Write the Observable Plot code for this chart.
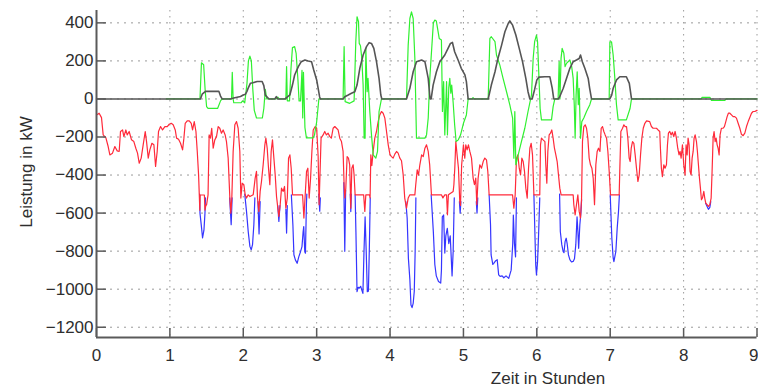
<!DOCTYPE html>
<html><head><meta charset="utf-8">
<script src="https://cdn.jsdelivr.net/npm/d3@7"></script>
<script src="https://cdn.jsdelivr.net/npm/@observablehq/plot@0.6"></script>
<style>body{margin:0;background:#fff;}</style>
</head><body><div id="chart"></div>
<script>
const xTicks = [0,1,2,3,4,5,6,7,8,9];
const yTicks = [400,200,0,-200,-400,-600,-800,-1000,-1200];
const xLabel = "Zeit in Stunden";
const yLabel = "Leistung in kW";

// Netzleistung nach Speicher (rot)
const redPoints = [[0,-84],[0.036,-75],[0.068,-98],[0.091,-189],[0.127,-203],[0.159,-250],[0.182,-294],[0.218,-285],[0.25,-250],[0.282,-273],[0.309,-276],[0.327,-171],[0.355,-163],[0.373,-198],[0.4,-163],[0.418,-189],[0.445,-171],[0.477,-215],[0.509,-224],[0.536,-259],[0.559,-285],[0.582,-338],[0.609,-311],[0.636,-241],[0.664,-171],[0.682,-224],[0.705,-311],[0.727,-268],[0.755,-233],[0.782,-241],[0.805,-355],[0.827,-276],[0.845,-171],[0.873,-145],[0.9,-163],[0.932,-145],[0.964,-145],[0.991,-133],[1.018,-128],[1.045,-136],[1.073,-163],[1.091,-206],[1.118,-212],[1.145,-233],[1.173,-268],[1.191,-206],[1.209,-128],[1.236,-115],[1.264,-115],[1.291,-128],[1.309,-163],[1.332,-119],[1.355,-171],[1.373,-276],[1.391,-399],[1.408,-585],[1.413,-505],[1.47,-505],[1.478,-585],[1.49,-560],[1.5,-556],[1.52,-504],[1.535,-189],[1.553,-206],[1.57,-154],[1.59,-259],[1.612,-215],[1.635,-198],[1.658,-145],[1.68,-154],[1.703,-180],[1.726,-163],[1.753,-189],[1.771,-224],[1.794,-311],[1.817,-521],[1.83,-600],[1.844,-521],[1.862,-276],[1.885,-136],[1.908,-119],[1.93,-154],[1.953,-276],[1.967,-521],[1.985,-443],[2.008,-451],[2.026,-504],[2.044,-521],[2.067,-504],[2.09,-513],[2.135,-504],[2.162,-416],[2.18,-381],[2.194,-521],[2.212,-591],[2.23,-486],[2.248,-434],[2.271,-346],[2.294,-241],[2.308,-206],[2.326,-259],[2.344,-364],[2.362,-451],[2.38,-276],[2.398,-215],[2.417,-311],[2.435,-399],[2.453,-513],[2.471,-574],[2.485,-618],[2.503,-556],[2.521,-469],[2.544,-486],[2.562,-460],[2.58,-574],[2.6,-521],[2.617,-311],[2.635,-294],[2.653,-364],[2.671,-504],[2.808,-504],[2.826,-626],[2.844,-504],[2.862,-381],[2.88,-364],[2.898,-521],[2.917,-416],[2.935,-276],[2.953,-163],[2.98,-145],[3.0,-154],[3.02,-300],[3.033,-556],[3.06,-206],[3.088,-189],[3.11,-171],[3.133,-189],[3.156,-180],[3.18,-198],[3.2,-206],[3.224,-154],[3.247,-145],[3.27,-154],[3.292,-163],[3.315,-206],[3.338,-224],[3.36,-276],[3.374,-451],[3.383,-520],[3.397,-470],[3.415,-303],[3.433,-311],[3.45,-346],[3.465,-574],[3.479,-364],[3.497,-346],[3.51,-400],[3.524,-504],[3.64,-504],[3.656,-591],[3.67,-504],[3.72,-504],[3.728,-520],[3.738,-294],[3.752,-350],[3.77,-276],[3.792,-206],[3.815,-171],[3.838,-119],[3.86,-84],[3.883,-66],[3.906,-75],[3.929,-101],[3.952,-171],[3.975,-241],[4.0,-294],[4.02,-303],[4.042,-311],[4.065,-290],[4.088,-276],[4.11,-285],[4.133,-311],[4.156,-325],[4.179,-399],[4.2,-521],[4.224,-574],[4.247,-521],[4.27,-504],[4.338,-504],[4.35,-451],[4.37,-373],[4.388,-400],[4.406,-346],[4.43,-294],[4.452,-303],[4.475,-259],[4.497,-241],[4.52,-276],[4.54,-346],[4.564,-504],[4.7,-504],[4.72,-520],[4.746,-504],[4.77,-504],[4.782,-609],[4.795,-504],[4.86,-486],[4.87,-450],[4.882,-364],[4.896,-224],[4.915,-300],[4.932,-364],[4.95,-539],[4.96,-560],[4.975,-350],[5.0,-241],[5.018,-311],[5.032,-241],[5.05,-268],[5.068,-241],[5.087,-276],[5.11,-311],[5.132,-416],[5.15,-451],[5.168,-416],[5.182,-556],[5.2,-416],[5.223,-346],[5.246,-364],[5.269,-329],[5.291,-311],[5.314,-320],[5.332,-381],[5.35,-504],[5.669,-504],[5.687,-574],[5.705,-504],[5.723,-311],[5.741,-294],[5.76,-364],[5.778,-399],[5.796,-311],[5.814,-329],[5.832,-381],[5.85,-469],[5.869,-521],[5.887,-364],[5.905,-259],[5.923,-233],[5.941,-294],[5.96,-504],[6.04,-504],[6.05,-241],[6.063,-206],[6.085,-215],[6.11,-224],[6.122,-346],[6.136,-443],[6.15,-276],[6.168,-189],[6.186,-180],[6.204,-163],[6.222,-206],[6.24,-259],[6.259,-294],[6.277,-329],[6.295,-399],[6.313,-469],[6.331,-504],[6.495,-504],[6.504,-556],[6.522,-609],[6.54,-556],[6.559,-504],[6.577,-591],[6.595,-626],[6.609,-530],[6.622,-224],[6.64,-145],[6.659,-136],[6.677,-154],[6.695,-206],[6.713,-311],[6.731,-346],[6.75,-364],[6.768,-416],[6.786,-556],[6.804,-346],[6.822,-276],[6.84,-259],[6.86,-276],[6.877,-154],[6.895,-145],[6.913,-171],[6.931,-189],[6.95,-206],[6.968,-276],[6.986,-381],[7.004,-504],[7.122,-504],[7.13,-381],[7.145,-171],[7.168,-154],[7.186,-136],[7.204,-145],[7.222,-145],[7.24,-206],[7.258,-311],[7.272,-329],[7.286,-259],[7.304,-224],[7.322,-233],[7.34,-294],[7.358,-364],[7.377,-434],[7.395,-399],[7.413,-294],[7.431,-206],[7.45,-154],[7.472,-128],[7.495,-115],[7.538,-119],[7.561,-145],[7.584,-154],[7.63,-154],[7.652,-163],[7.675,-171],[7.684,-259],[7.697,-364],[7.711,-408],[7.73,-346],[7.747,-364],[7.766,-346],[7.78,-241],[7.793,-180],[7.811,-171],[7.83,-189],[7.847,-175],[7.866,-198],[7.884,-171],[7.902,-206],[7.92,-259],[7.938,-294],[7.952,-276],[7.966,-311],[7.984,-241],[8.002,-346],[8.02,-399],[8.034,-241],[8.048,-294],[8.061,-206],[8.075,-241],[8.088,-381],[8.102,-399],[8.116,-311],[8.13,-276],[8.143,-206],[8.157,-189],[8.175,-224],[8.188,-276],[8.202,-346],[8.216,-416],[8.229,-469],[8.243,-530],[8.257,-521],[8.275,-486],[8.288,-521],[8.302,-548],[8.32,-556],[8.338,-565],[8.357,-556],[8.375,-521],[8.388,-381],[8.402,-206],[8.415,-171],[8.43,-224],[8.443,-206],[8.457,-241],[8.47,-259],[8.484,-294],[8.497,-189],[8.515,-154],[8.538,-154],[8.556,-145],[8.575,-119],[8.593,-93],[8.61,-75],[8.63,-75],[8.652,-84],[8.675,-93],[8.697,-93],[8.72,-101],[8.743,-128],[8.766,-154],[8.788,-186],[8.811,-193],[8.834,-180],[8.857,-145],[8.88,-119],[8.902,-98],[8.925,-75],[8.947,-66],[8.97,-66],[9.0,-60]];

// Netzleistung ohne Speicher (blau), nur wo sie unter der roten Kurve liegt
const blueSegments = [
 [[1.405,-500],[1.41,-600],[1.432,-679],[1.445,-731],[1.464,-690],[1.478,-600],[1.485,-520]],
 [[1.815,-520],[1.835,-661],[1.848,-520]],
 [[2.02,-500],[2.044,-591],[2.067,-696],[2.09,-775],[2.108,-793],[2.126,-766],[2.144,-661],[2.158,-520]],
 [[2.2,-540],[2.215,-710],[2.23,-540]],
 [[2.47,-560],[2.485,-644],[2.5,-560]],
 [[2.58,-580],[2.59,-705],[2.6,-560]],
 [[2.655,-504],[2.676,-661],[2.69,-819],[2.71,-846],[2.734,-864],[2.756,-830],[2.78,-803],[2.8,-776],[2.815,-700],[2.824,-671],[2.838,-803],[2.847,-811],[2.86,-557],[2.866,-500]],
 [[3.028,-500],[3.042,-590],[3.05,-520]],
 [[3.37,-440],[3.383,-801],[3.395,-480]],
 [[3.458,-500],[3.465,-592],[3.472,-500]],
 [[3.524,-504],[3.535,-700],[3.55,-1013],[3.565,-990],[3.58,-995],[3.6,-985],[3.615,-1005],[3.63,-1022],[3.645,-800],[3.66,-620],[3.675,-800],[3.69,-1013],[3.705,-1011],[3.718,-780],[3.73,-520]],
 [[4.215,-540],[4.233,-626],[4.25,-838],[4.27,-950],[4.285,-1083],[4.3,-1097],[4.315,-1075],[4.33,-1011],[4.342,-801],[4.352,-520]],
 [[4.56,-504],[4.59,-700],[4.61,-870],[4.63,-930],[4.66,-960],[4.69,-968],[4.7,-900],[4.712,-620],[4.73,-610],[4.746,-810],[4.76,-720],[4.78,-680],[4.8,-760],[4.82,-720],[4.845,-930],[4.86,-800],[4.875,-520]],
 [[4.945,-540],[4.955,-600],[4.965,-540]],
 [[5.175,-540],[5.185,-600],[5.195,-520]],
 [[5.35,-504],[5.369,-661],[5.377,-820],[5.4,-870],[5.413,-864],[5.44,-850],[5.46,-845],[5.48,-925],[5.5,-933],[5.527,-930],[5.55,-940],[5.58,-930],[5.617,-943],[5.65,-900],[5.672,-760],[5.68,-610],[5.695,-760],[5.71,-830],[5.722,-520]],
 [[5.96,-504],[5.97,-650],[5.985,-873],[5.995,-925],[6.01,-855],[6.025,-700],[6.04,-520]],
 [[6.31,-500],[6.32,-697],[6.34,-766],[6.358,-801],[6.37,-808],[6.385,-750],[6.4,-732],[6.413,-760],[6.431,-820],[6.45,-845],[6.472,-857],[6.495,-854],[6.513,-840],[6.531,-766],[6.548,-620],[6.56,-700],[6.57,-785],[6.586,-661],[6.6,-600],[6.61,-530]],
 [[7.0,-504],[7.022,-731],[7.04,-836],[7.05,-855],[7.077,-801],[7.095,-679],[7.113,-591],[7.125,-504]],
 [[8.3,-548],[8.32,-565],[8.338,-580],[8.357,-570],[8.37,-540]]
];

// Speicherleistung (grün)
const greenPoints = [[0.95,0],[1.41,0],[1.43,190],[1.46,180],[1.48,50],[1.5,-40],[1.52,-50],[1.65,-50],[1.69,-10],[1.71,0],[1.84,0],[1.85,140],[1.862,0],[1.87,-20],[1.97,-20],[1.99,-10],[2.02,-20],[2.05,80],[2.07,200],[2.09,225],[2.11,200],[2.13,50],[2.15,-60],[2.18,-100],[2.26,-100],[2.28,-50],[2.3,50],[2.32,0],[2.45,0],[2.47,10],[2.49,0],[2.58,0],[2.59,170],[2.6,-10],[2.63,-10],[2.65,160],[2.67,270],[2.7,275],[2.72,240],[2.745,100],[2.76,-10],[2.78,-10],[2.8,150],[2.81,-100],[2.82,140],[2.84,-150],[2.86,-205],[2.95,-205],[2.97,-190],[3.0,-120],[3.03,0],[3.36,0],[3.374,275],[3.388,-14],[3.45,-23],[3.51,-10],[3.533,300],[3.55,432],[3.57,406],[3.58,292],[3.597,280],[3.615,213],[3.633,73],[3.647,-206],[3.66,-206],[3.67,266],[3.688,38],[3.7,108],[3.724,-66],[3.747,-189],[3.77,-294],[3.806,-311],[3.829,-276],[3.85,-66],[3.883,0],[4.224,0],[4.247,283],[4.27,423],[4.292,458],[4.315,423],[4.338,213],[4.36,-206],[4.475,-206],[4.497,-189],[4.52,-100],[4.54,100],[4.59,400],[4.61,415],[4.63,410],[4.67,318],[4.7,310],[4.714,-66],[4.73,91],[4.746,-189],[4.77,91],[4.782,-189],[4.8,60],[4.814,108],[4.828,30],[4.84,73],[4.86,-20],[4.88,-136],[4.9,-224],[4.93,-215],[4.96,-190],[5.0,-128],[5.04,-84],[5.064,0],[5.12,0],[5.13,7],[5.15,0],[5.337,0],[5.36,318],[5.38,327],[5.43,301],[5.45,231],[5.496,178],[5.54,108],[5.587,38],[5.632,-31],[5.67,-101],[5.687,-311],[5.7,-66],[5.714,-346],[5.746,-294],[5.79,-224],[5.836,-154],[5.88,-66],[5.927,21],[5.95,213],[5.97,301],[5.995,336],[6.01,300],[6.03,100],[6.045,-50],[6.063,-110],[6.2,-110],[6.222,-40],[6.245,0],[6.29,0],[6.304,196],[6.315,0],[6.33,213],[6.345,266],[6.368,240],[6.385,170],[6.404,187],[6.45,205],[6.475,170],[6.495,108],[6.51,-30],[6.522,-206],[6.535,20],[6.55,143],[6.565,-30],[6.577,56],[6.595,-206],[6.613,-119],[6.64,-100],[6.677,-66],[6.722,-30],[6.745,0],[6.986,0],[6.995,300],[7.018,300],[7.04,231],[7.063,108],[7.085,-30],[7.108,-110],[7.22,-110],[7.27,-50],[7.29,0],[8.24,0],[8.25,8],[8.36,8],[8.38,-8],[8.56,-8],[8.58,0],[9.0,0]];

// Speicherzustand (grau)
const grayPoints = [[0,0],[1.416,0],[1.44,25],[1.485,40],[1.667,40],[1.69,15],[1.712,0],[1.826,0],[1.87,5],[1.962,13],[2.0,21],[2.03,25],[2.05,40],[2.07,60],[2.098,83],[2.13,85],[2.19,92],[2.257,92],[2.28,70],[2.3,20],[2.35,0],[2.43,0],[2.45,12],[2.47,0],[2.57,0],[2.59,7],[2.635,21],[2.67,73],[2.7,126],[2.75,170],[2.79,196],[2.84,205],[2.885,200],[2.93,196],[2.96,152],[3.0,100],[3.04,12],[3.05,0],[3.36,0],[3.383,12],[3.43,21],[3.474,30],[3.52,38],[3.55,73],[3.588,161],[3.633,231],[3.679,275],[3.715,296],[3.747,292],[3.779,266],[3.815,196],[3.85,108],[3.874,21],[3.888,0],[4.224,0],[4.27,56],[4.315,143],[4.36,196],[4.43,205],[4.475,196],[4.52,108],[4.545,0],[4.56,0],[4.587,73],[4.632,143],[4.678,196],[4.746,231],[4.79,266],[4.823,292],[4.85,297],[4.88,248],[4.927,205],[4.97,161],[5.02,126],[5.04,91],[5.064,0],[5.337,0],[5.38,73],[5.43,143],[5.47,213],[5.52,283],[5.565,353],[5.61,397],[5.632,410],[5.67,388],[5.714,336],[5.76,266],[5.805,196],[5.85,108],[5.88,38],[5.905,0],[5.936,0],[5.97,50],[6.0,100],[6.03,115],[6.11,117],[6.177,117],[6.21,56],[6.23,0],[6.29,0],[6.31,10],[6.36,56],[6.404,108],[6.45,161],[6.495,196],[6.54,205],[6.577,213],[6.595,231],[6.62,196],[6.654,161],[6.7,108],[6.72,56],[6.745,0],[6.995,0],[7.02,20],[7.04,56],[7.086,100],[7.13,117],[7.22,117],[7.26,82],[7.29,0],[9.0,0]];

const toRows = pts => pts.map(([t, v]) => ({t, v}));
const blueRows = blueSegments.flatMap((seg, i) => seg.map(([t, v]) => ({t, v, s: i})));

const W = 758, H = 387, mL = 96, mR = 1.5, mT = 10, mB = 50;
const yDomain = [-1254, 465];
const axisColor = "#5a5a5a";
const fmt = d => (d < 0 ? "\u2212" : "") + Math.abs(d);

const chart = Plot.plot({
  width: W, height: H,
  marginLeft: mL, marginRight: mR, marginTop: mT, marginBottom: mB,
  style: {fontFamily: "'Liberation Sans', Arial, sans-serif", fontSize: "17px", color: "#2e2e2e", background: "#fff"},
  x: {domain: [0, 9]},
  y: {domain: yDomain},
  marks: [
    Plot.gridX(xTicks, {stroke: "#9a9a9a", strokeOpacity: 1, strokeDasharray: "1.5,4.5"}),
    Plot.gridY(yTicks, {stroke: "#9a9a9a", strokeOpacity: 1, strokeDasharray: "2,5"}),
    Plot.line(blueRows, {x: "t", y: "v", z: "s", stroke: "#3535ff", strokeWidth: 1.2}),
    Plot.line(toRows(redPoints), {x: "t", y: "v", stroke: "#ff2a3a", strokeWidth: 1.2}),
    Plot.line(toRows(greenPoints), {x: "t", y: "v", stroke: "#30f030", strokeWidth: 1.2}),
    Plot.line(toRows(grayPoints), {x: "t", y: "v", stroke: "#555", strokeWidth: 1.6}),
    Plot.ruleX([0], {stroke: axisColor, strokeWidth: 2}),
    Plot.ruleY([yDomain[0]], {stroke: axisColor, strokeWidth: 2}),
    Plot.tickY(yTicks, {y: d => d, stroke: axisColor, strokeWidth: 1.5, insetRight: (W - mL - mR) - 10}),
    Plot.tickX(xTicks, {x: d => d, stroke: axisColor, strokeWidth: 1.5, insetTop: (H - mT - mB) - 9}),
    Plot.axisX(xTicks.slice(0, -1), {tickSize: 0, tickPadding: 11, label: null, fontSize: 17, tickFormat: fmt}),
    Plot.axisX(xTicks.slice(-1), {tickSize: 0, tickPadding: 11, label: null, fontSize: 17, tickFormat: fmt, textAnchor: "end", dx: 1.5}),
    Plot.axisY(yTicks, {tickSize: 0, tickPadding: 3, label: null, fontSize: 17, tickFormat: fmt})
  ]
});

const svg = d3.select(chart);
svg.append("text")
  .attr("x", 548).attr("y", 384)
  .attr("text-anchor", "middle")
  .attr("font-size", 17).attr("fill", "#2e2e2e")
  .text(xLabel);
svg.append("text")
  .attr("transform", "translate(32,172) rotate(-90)")
  .attr("text-anchor", "middle")
  .attr("font-size", 17).attr("fill", "#2e2e2e")
  .text(yLabel);

document.getElementById("chart").appendChild(chart);
</script>
</body></html>
